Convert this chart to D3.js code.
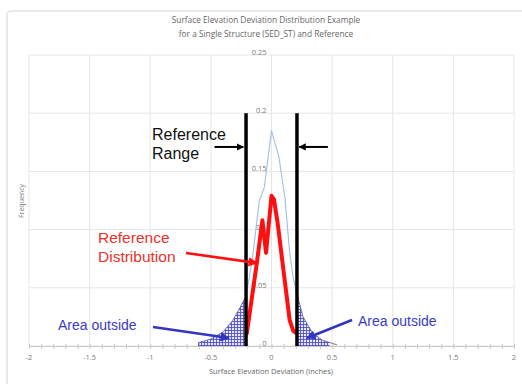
<!DOCTYPE html>
<html>
<head>
<meta charset="utf-8">
<script src="https://cdn.jsdelivr.net/npm/d3@7"></script>
<style>
  body { margin: 0; background: #fff; }
  svg { display: block; }
</style>
</head>
<body>
<svg id="chart" width="522" height="384"></svg>
<script>
//chart values
const xTicks = [-2, -1.5, -1, -0.5, 0, 0.5, 1, 1.5, 2];
const yTicks = [0, 0.05, 0.1, 0.15, 0.2, 0.25];
const titleLines = ["Surface Elevation Deviation Distribution Example", "for a Single Structure (SED_ST) and Reference"];

//SED_ST distribution (light blue)
const sedX = [-0.6, -0.5, -0.4, -0.32, -0.26, -0.21, -0.16, -0.12, -0.1, -0.06, 0, 0.06, 0.11, 0.15, 0.18, 0.21, 0.26, 0.34, 0.42, 0.54];
const sedY = [0.003, 0.006, 0.012, 0.022, 0.033, 0.043, 0.073, 0.108, 0.125, 0.136, 0.185, 0.163, 0.128, 0.08, 0.058, 0.045, 0.025, 0.011, 0.005, 0.001];

//reference distribution (red)
const refX = [-0.205, -0.12, -0.075, -0.045, 0, 0.02, 0.05, 0.15, 0.18, 0.205];
const refY = [0.01, 0.072, 0.108, 0.08, 0.129, 0.126, 0.106, 0.022, 0.013, 0.011];

//reference range limits
const rangeLimits = [-0.21, 0.21];
const rangeTop = 0.2;

const svg = d3.select("#chart");
const x = d3.scaleLinear().domain([-2, 2]).range([29, 514]);
const y = d3.scaleLinear().domain([0, 0.25]).range([346, 55]);

//outer chart frame
svg.append("rect")
    .attr("x", 7).attr("y", 11)
    .attr("width", 530).attr("height", 390)
    .attr("rx", 4)
    .attr("fill", "none")
    .attr("stroke", "#e3e3e3")
    .attr("stroke-width", 1.5);

//hatch pattern for area outside
const defs = svg.append("defs");
const pat = defs.append("pattern")
    .attr("id", "hatch")
    .attr("patternUnits", "userSpaceOnUse")
    .attr("width", 3).attr("height", 3);
pat.append("rect").attr("width", 3).attr("height", 3).attr("fill", "#e8e8f8");
pat.append("path").attr("d", "M0,0.5H3M0.5,0V3")
    .attr("stroke", "#4f4fcc").attr("stroke-width", 0.9);

//gridlines
svg.append("g")
    .selectAll("line")
    .data(yTicks)
    .join("line")
    .attr("x1", x(-2)).attr("x2", x(2))
    .attr("y1", d => y(d)).attr("y2", d => y(d))
    .attr("stroke", "#e6e6e6");
svg.append("g")
    .selectAll("line")
    .data(xTicks)
    .join("line")
    .attr("x1", d => x(d)).attr("x2", d => x(d))
    .attr("y1", y(0)).attr("y2", y(0.25))
    .attr("stroke", "#e6e6e6");

//x axis with minor ticks
const xAxis = svg.append("g")
    .attr("transform", `translate(0,${y(0)})`)
    .call(d3.axisBottom(x).tickValues(d3.range(-20, 21).map(d => d / 10)).tickSize(3).tickFormat(""));
xAxis.select(".domain").attr("stroke", "#c8c8c8");
xAxis.selectAll(".tick line").attr("stroke", "#c8c8c8").attr("y1", -2);

svg.append("g")
    .selectAll("text")
    .data(xTicks)
    .join("text")
    .attr("x", d => x(d))
    .attr("y", 360)
    .attr("text-anchor", "middle")
    .attr("font-family", "Open Sans, sans-serif")
    .attr("font-size", 7.5)
    .attr("fill", "#7a7a7a")
    .text(d => d);

//y labels beside the x=0 line
svg.append("g")
    .selectAll("text")
    .data(yTicks)
    .join("text")
    .attr("x", x(0) - 5)
    .attr("y", d => y(d) - 2)
    .attr("text-anchor", "end")
    .attr("dominant-baseline", "middle")
    .attr("font-family", "Open Sans, sans-serif")
    .attr("font-size", 7.5)
    .attr("fill", "#7a7a7a")
    .text(d => d);

//titles
svg.append("g")
    .selectAll("text")
    .data(titleLines)
    .join("text")
    .attr("x", 266)
    .attr("y", (d, i) => 23 + i * 14)
    .attr("text-anchor", "middle")
    .attr("font-family", "Open Sans, sans-serif")
    .attr("font-size", 8.3)
    .attr("fill", "#666")
    .text(d => d);

svg.append("text")
    .attr("x", 271).attr("y", 374)
    .attr("text-anchor", "middle")
    .attr("font-family", "Open Sans, sans-serif")
    .attr("font-size", 7.5)
    .attr("fill", "#666")
    .text("Surface Elevation Deviation (inches)");

svg.append("text")
    .attr("transform", "translate(24,201) rotate(-90)")
    .attr("text-anchor", "middle")
    .attr("font-family", "Open Sans, sans-serif")
    .attr("font-size", 7)
    .attr("fill", "#777")
    .text("Frequency");

//shaded areas outside reference range
const sedPts = sedX.map((d, i) => [d, sedY[i]]);
function interpSed(xv) {
    for (let i = 1; i < sedPts.length; i++) {
        if (xv <= sedPts[i][0]) {
            const [x0, y0] = sedPts[i - 1], [x1, y1] = sedPts[i];
            return y0 + (y1 - y0) * (xv - x0) / (x1 - x0);
        }
    }
    return 0;
}
const area = d3.area().x(d => x(d[0])).y0(y(0)).y1(d => y(d[1]));
const leftPts = sedPts.filter(d => d[0] < rangeLimits[0]).concat([[rangeLimits[0], interpSed(rangeLimits[0])]]);
const rightEnd = 0.48;
const rightPts = [[rangeLimits[1], interpSed(rangeLimits[1])]]
    .concat(sedPts.filter(d => d[0] > rangeLimits[1] && d[0] < rightEnd))
    .concat([[rightEnd, interpSed(rightEnd)]]);
svg.append("path").datum(leftPts).attr("d", area).attr("fill", "url(#hatch)");
svg.append("path").datum(rightPts).attr("d", area).attr("fill", "url(#hatch)");
//small step at start of left tail
svg.append("line")
    .attr("x1", x(sedX[0])).attr("x2", x(sedX[0]))
    .attr("y1", y(0)).attr("y2", y(sedY[0]))
    .attr("stroke", "#444488").attr("stroke-width", 1);

//SED_ST line
const line = d3.line().x(d => x(d[0])).y(d => y(d[1]));
svg.append("path").datum(sedPts.filter(d => d[0] <= rangeLimits[1] && d[0] >= rangeLimits[0] - 0.01))
    .attr("d", line).attr("fill", "none").attr("stroke", "#9cc0e4").attr("stroke-width", 1.1);
svg.append("path").datum(leftPts)
    .attr("d", line).attr("fill", "none").attr("stroke", "#5a5a9a").attr("stroke-width", 0.8);
svg.append("path").datum(sedPts.filter(d => d[0] >= rangeLimits[1]))
    .attr("d", line).attr("fill", "none").attr("stroke", "#5a5a7a").attr("stroke-width", 0.8);

//reference distribution line
svg.append("path").datum(refX.map((d, i) => [d, refY[i]]))
    .attr("d", line)
    .attr("fill", "none")
    .attr("stroke", "#ff1010")
    .attr("stroke-width", 4)
    .attr("stroke-linejoin", "round");

//reference range vertical lines
svg.append("g")
    .selectAll("line")
    .data(rangeLimits)
    .join("line")
    .attr("x1", d => x(d)).attr("x2", d => x(d))
    .attr("y1", y(0)).attr("y2", y(rangeTop))
    .attr("stroke", "#000")
    .attr("stroke-width", 3.5);

//arrow markers
function marker(id, color) {
    defs.append("marker")
        .attr("id", id)
        .attr("viewBox", "0 0 10 10")
        .attr("refX", 9).attr("refY", 5)
        .attr("markerWidth", 3.6).attr("markerHeight", 3.6)
        .attr("orient", "auto")
        .append("path")
        .attr("d", "M0,0L10,5L0,10z")
        .attr("fill", color);
}
marker("arrBlack", "#000");
marker("arrRed", "#ff1010");
marker("arrBlue", "#3535c0");

function arrow(x1, y1, x2, y2, color, w, id) {
    svg.append("line")
        .attr("x1", x1).attr("y1", y1).attr("x2", x2).attr("y2", y2)
        .attr("stroke", color).attr("stroke-width", w)
        .attr("marker-end", `url(#${id})`);
}
arrow(x(-0.47), y(0.171), x(-0.232), y(0.171), "#000", 2, "arrBlack");
arrow(x(0.465), y(0.171), x(0.229), y(0.171), "#000", 2, "arrBlack");
arrow(186, 253, 257, 263, "#ff1010", 2.6, "arrRed");
arrow(153, 327, 229, 338, "#3535c0", 2.6, "arrBlue");
arrow(352, 320, 307, 338, "#3535c0", 2.6, "arrBlue");

//annotation labels
function label(lines, lx, ly, color, size) {
    svg.append("g")
        .selectAll("text")
        .data(lines)
        .join("text")
        .attr("x", lx)
        .attr("y", (d, i) => ly + i * 19)
        .attr("font-family", "Liberation Sans, Arial, sans-serif")
        .attr("font-size", size)
        .attr("fill", color)
        .text(d => d);
}
label(["Reference", "Range"], 152, 140, "#111", 16);
label(["Reference", "Distribution"], 98, 243, "#e8322c", 15.5);
label(["Area outside"], 58, 330, "#3b3bc4", 14);
label(["Area outside"], 358, 326, "#3b3bc4", 14);
</script>
</body>
</html>
